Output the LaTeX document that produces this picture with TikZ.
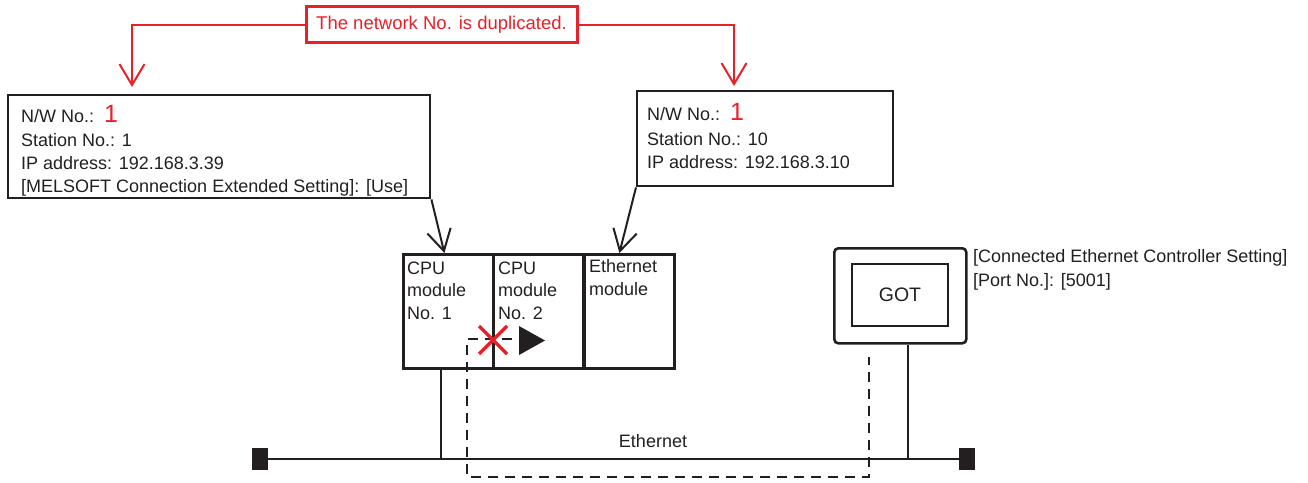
\documentclass[tikz,border=0pt]{standalone}
\usepackage{fontspec}
\setmainfont{Liberation Sans}
\usetikzlibrary{arrows.meta,calc}
\definecolor{mred}{RGB}{232,32,40}
\definecolor{mblk}{RGB}{35,31,32}
\begin{document}
\begin{tikzpicture}[x=1pt,y=-1pt,
  txt/.style={anchor=base west, inner sep=0pt, font=\fontsize{18}{22}\selectfont, text=mblk},
  infobox/.style={draw=mblk, line width=2.4pt, inner sep=0pt, anchor=north west},
  modbox/.style={draw=mblk, line width=2.8pt, inner sep=0pt, anchor=north west, minimum width=90pt, minimum height=114pt},
  redln/.style={draw=mred, line width=2pt},
  redarr/.style={redln, -{Straight Barb[length=21pt,width=25pt]}},
  blkarr/.style={draw=mblk, line width=2pt, -{Straight Barb[length=21pt,width=24pt]}},
  wire/.style={draw=mblk, line width=2pt},
  bus/.style={draw=mblk, line width=2.6pt},
  dashln/.style={draw=mblk, line width=2pt, dash pattern=on 10pt off 7pt},
  endsq/.style={fill=mblk, minimum width=16pt, minimum height=22pt, inner sep=0pt},
  xmark/.style={draw=mred, line width=3.5pt}
]
\useasboundingbox (0,0) rectangle (1308,482);

% red duplicate note
\node[draw=mred, line width=3pt, text=mred, minimum width=271pt, minimum height=36pt, inner sep=0pt,
  font=\fontsize{18.5}{22}\selectfont] (dup) at (441.5,24.5) {The network No. is duplicated.};
\coordinate (ltip) at (132,87);
\coordinate (rtip) at (734,86);
\draw[redarr] (dup.west) -| (ltip);
\draw[redarr] (dup.east) -| (rtip);

% left info box
\node[infobox, minimum width=422pt, minimum height=103pt] (lbox) at (7,94) {};
\node[txt] (l1) at (21,122) {N/W No.:\ \ {\color{mred}\fontsize{25}{25}\selectfont 1}};
\node[txt] (l2) at (21,146) {Station No.: 1};
\node[txt] (l3) at (21,169) {IP address: 192.168.3.39};
\node[txt] (l4) at (21,192) {[MELSOFT Connection Extended Setting]: [Use]};

% right info box
\node[infobox, minimum width=256pt, minimum height=95pt] (rbox) at (636,90) {};
\node[txt] (r1) at (647,120) {N/W No.:\ \ {\color{mred}\fontsize{25}{25}\selectfont 1}};
\node[txt] (r2) at (647,145) {Station No.: 10};
\node[txt] (r3) at (647,168) {IP address: 192.168.3.10};

% modules
\node[modbox] (cpu1) at (402,253) {};
\node[modbox] (cpu2) at (492,253) {};
\node[modbox] (eth) at (583,253) {};
\node[txt] (c1a) at (407,274) {CPU};
\node[txt] (c1b) at (407,296) {module};
\node[txt] (c1c) at (407,319) {No. 1};
\node[txt] (c2a) at (498,274) {CPU};
\node[txt] (c2b) at (498,296) {module};
\node[txt] (c2c) at (498,319) {No. 2};
\node[txt] (e1) at (589,272) {Ethernet};
\node[txt] (e2) at (589,295) {module};

% arrows to modules
\draw[blkarr] (lbox.south east) -- ([xshift=-4pt]cpu1.north);
\draw[blkarr] (rbox.south west) -- ([xshift=-10pt]eth.north);

% GOT
\node[draw=mblk, line width=2.6pt, rounded corners=4pt, minimum width=132pt, minimum height=95pt,
  inner sep=0pt, anchor=north west] (gotout) at (833,247) {};
\node[draw=mblk, line width=1.2pt, minimum width=96pt, minimum height=62pt, inner sep=0pt,
  font=\fontsize{19.5}{22}\selectfont, text=mblk] (gotin) at (900,295) {GOT};
\node[txt] (g1) at (973,262) {[Connected Ethernet Controller Setting]};
\node[txt] (g2) at (973,286) {[Port No.]: [5001]};

% Ethernet bus
\node[endsq] (sqL) at (260,459) {};
\node[endsq] (sqR) at (967,459) {};
\draw[bus] (sqL.center) -- (sqR.center);
\node[txt, anchor=center] (ethlbl) at (653,441) {Ethernet};
\draw[wire] ([xshift=-7pt]cpu1.south) -- ([xshift=-7pt]cpu1.south |- sqL.center);
\draw[wire] ([xshift=8pt]gotout.south) -- ([xshift=8pt]gotout.south |- sqL.center);

% dashed route
\coordinate (d0) at (512,339);
\coordinate (d1) at (467,339);
\coordinate (d2) at (467,477);
\coordinate (d3) at (869,477);
\coordinate (d4) at (869,357);
\draw[dashln] (d0) -- (d1) -- (d2) -- (d3) -- (d4);

% blocked mark and direction triangle
\coordinate (xc) at (493,340);
\draw[xmark] ($(xc)+(-14,-14)$) -- ($(xc)+(14,14)$);
\draw[xmark] ($(xc)+(-14,14)$) -- ($(xc)+(14,-14)$);
\fill[mblk] (519,326) -- (545,340.5) -- (519,355) -- cycle;
\end{tikzpicture}
\end{document}
